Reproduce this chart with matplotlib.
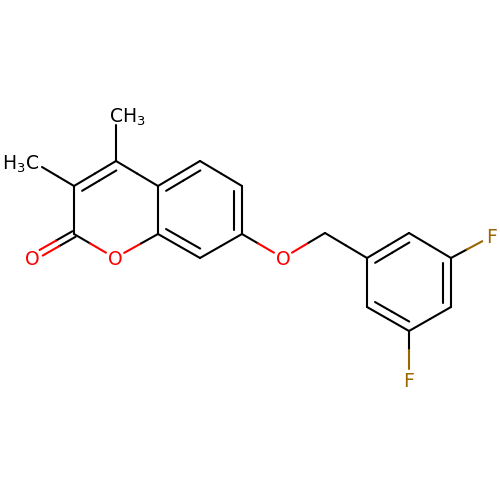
import numpy as np
import matplotlib
matplotlib.use("Agg")
import matplotlib.pyplot as plt

plt.rcParams['mathtext.default'] = 'regular'
plt.rcParams['font.family'] = 'DejaVu Sans'

# atom name -> (x, y)
atom_x = dict(C4=116, C3=74, C2=74, O1=115, C8a=158, C4a=158, C5=200, C6=242, C7=242, C8=200,
              O2=32, Me4=116, Me3=42, O3=283, CH2=325, A1=367, A2=409, A3=451, A4=451,
              A5=409, A6=367, F1=492, F2=409)
atom_y = dict(C4=161, C3=186, C2=234, O1=258, C8a=234, C4a=186, C5=161, C6=186, C7=234, C8=258,
              O2=258, Me4=125, Me3=167, O3=258, CH2=233, A1=258, A2=233, A3=258, A4=307,
              A5=331, A6=307, F1=236, F2=380)
single_bonds = [("C4", "Me4"), ("C3", "Me3"), ("C3", "C2"), ("C2", "O1"), ("O1", "C8a"),
                ("C4", "C4a"), ("C8a", "C4a"), ("C5", "C6"), ("C7", "C8"), ("C7", "O3"),
                ("O3", "CH2"), ("CH2", "A1"), ("A2", "A3"), ("A4", "A5"), ("A6", "A1"),
                ("A3", "F1"), ("A5", "F2")]
ring_double_bonds = [("C3", "C4", "C8a"), ("C4a", "C5", "C7"), ("C6", "C7", "C4a"), ("C8", "C8a", "C5"),
                     ("A1", "A2", "A4"), ("A3", "A4", "A6"), ("A5", "A6", "A2")]
carbonyl_bond = ("C2", "O2")
labels = [("CH$_3$", 109, 114.5, "black"), ("H$_3$C", 2.5, 161.5, "black")]
hetero_labels = [("O", "O1"), ("O", "O2"), ("O", "O3"), ("F", "F1"), ("F", "F2")]

colors = {"O": "#FF0000", "F": "#996600"}
gaps = {"O": 10.5, "F": 11}
LW = 1.5
INNER = 8.3
SHRINK = 4.5

fig = plt.figure(figsize=(5, 5), dpi=100, facecolor="white")
ax = fig.add_axes([0, 0, 1, 1])
ax.set_xlim(0, 500)
ax.set_ylim(500, 0)
ax.axis("off")


def pos(name):
    return np.array([atom_x[name], atom_y[name]], dtype=float)


def elem(name):
    if name[0] == "O":
        return "O"
    if name[0] == "F":
        return "F"
    return "C"


def segment(a, b, ca="black", cb="black"):
    m = (a + b) / 2
    for s, e, c in ((a, m, ca), (m, b, cb)):
        ax.plot([s[0], e[0]], [s[1], e[1]], color=c, lw=LW, solid_capstyle="round")


def bond(n1, n2, offset=0.0):
    a, b = pos(n1), pos(n2)
    u = (b - a) / np.linalg.norm(b - a)
    n = np.array([-u[1], u[0]])
    e1, e2 = elem(n1), elem(n2)
    s = a + u * gaps.get(e1, 0) + n * offset
    e = b - u * gaps.get(e2, 0) + n * offset
    segment(s, e, colors.get(e1, "black"), colors.get(e2, "black"))


for n1, n2 in single_bonds:
    bond(n1, n2)

for n1, n2, toward in ring_double_bonds:
    bond(n1, n2)
    a, b, t = pos(n1), pos(n2), pos(toward)
    u = (b - a) / np.linalg.norm(b - a)
    n = np.array([-u[1], u[0]])
    if np.dot(t - a, n) < 0:
        n = -n
    segment(a + u * SHRINK + n * INNER, b - u * SHRINK + n * INNER)

bond(*carbonyl_bond, offset=3.2)
bond(*carbonyl_bond, offset=-3.2)

for txt, name in hetero_labels:
    ax.text(atom_x[name], atom_y[name] - 0.7, txt, color=colors[txt], fontsize=13.5,
            ha="center", va="center_baseline")
for txt, x, y, c in labels:
    ax.text(x, y, txt, color=c, fontsize=13.5, ha="left", va="center_baseline")

fig.savefig("out.png", dpi=100, facecolor="white")
